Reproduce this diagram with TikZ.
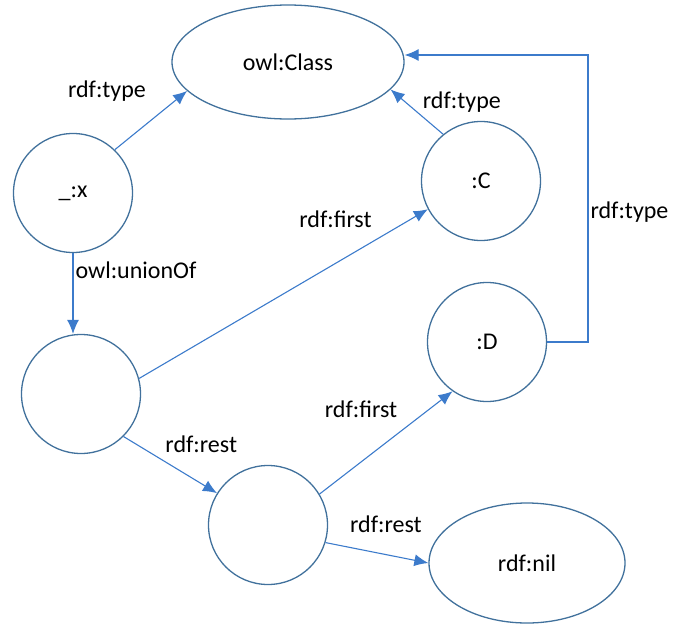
\documentclass[tikz,border=0pt]{standalone}
\usepackage{fontspec}
\setmainfont{Carlito}
\usetikzlibrary{arrows.meta,shapes.geometric}
\definecolor{rimblue}{HTML}{41719C}
\definecolor{edgeblue}{HTML}{3C7BCB}
\tikzset{
	x=1pt, y=1pt,
	every node/.style = {font=\fontsize{24}{27}\selectfont},
	res/.style={draw=rimblue, line width=1.3pt, circle, minimum size=119pt, inner sep=0pt},
	cls/.style={draw=rimblue, line width=1.3pt, ellipse, inner sep=0pt},
	link/.style={color=edgeblue, line width=1.1pt, -{Latex[length=14pt,width=12pt]}},
	lbl/.style={text=black, text height=17pt, text depth=6pt, inner sep=2pt}
}

\begin{document}
\begin{tikzpicture}
		\useasboundingbox (0,0) rectangle (687,-624);
		\node[cls, minimum width=232pt, minimum height=114pt] (owl) at (288,-62) {owl:Class};
		\node[res] (x) at (73,-193) {\_:x};
		\node[res] (C) at (481,-181) {:C};
		\node[res] (l1) at (81,-394) {};
		\node[res] (D) at (487,-342) {:D};
		\node[res] (l2) at (268,-525) {};
		\node[cls, minimum width=196pt, minimum height=120pt] (nil) at (527,-563) {rdf:nil};
		\coordinate (bend) at (588,-55);
		% rdf:type links
		\draw[link] (x.46) -- node[lbl, xshift=-44pt, yshift=28pt]{rdf:type} (owl.196);
		\draw[link] (C.129) -- node[lbl, xshift=45pt, yshift=9pt]{rdf:type} (owl.345);
		\draw[link] (D.east) -- (D.east -| bend) -- node[lbl, right, pos=0.45]{rdf:type} (bend) -- (owl.east |- bend);
		% the list
		\draw[link] (x.south) -- node[lbl, right, pos=0.24]{owl:unionOf} (x.south |- l1.north);
		\draw[link] (l1.15) -- node[lbl, xshift=52pt, yshift=72pt]{rdf:first} (C.208);
		\draw[link] (l1.-45) -- node[lbl, xshift=31pt, yshift=18pt]{rdf:rest} (l2.148);
		\draw[link] (l2.31) -- node[lbl, xshift=-25pt, yshift=31pt]{rdf:first} (D.235);
		\draw[link] (l2.-17) -- node[lbl, xshift=9pt, yshift=26pt]{rdf:rest} (nil.west);
	\end{tikzpicture}
\end{document}
